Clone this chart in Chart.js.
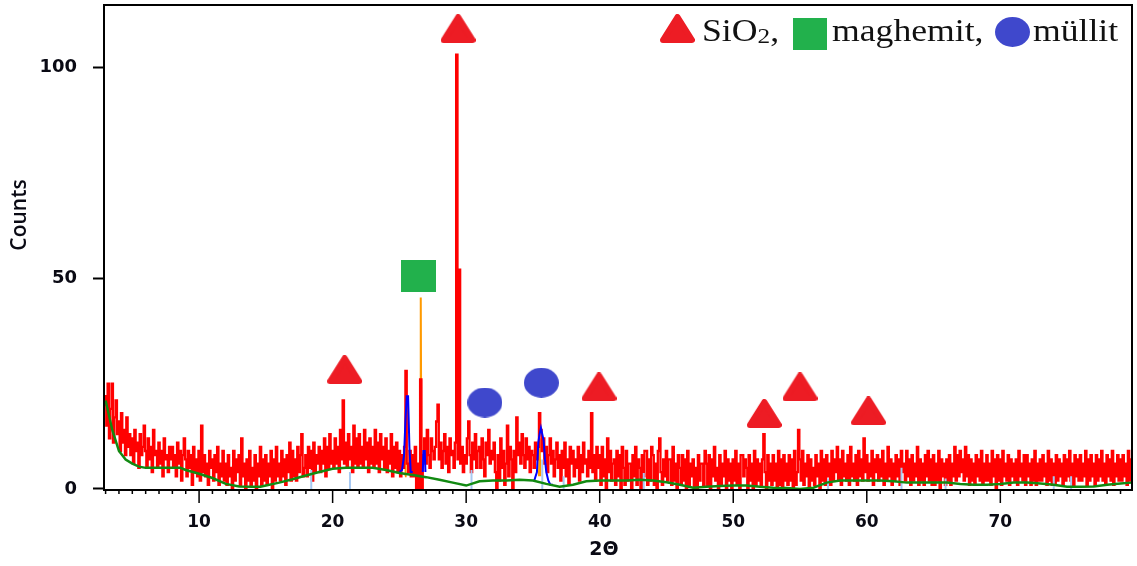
<!DOCTYPE html>
<html>
<head>
<meta charset="utf-8">
<script src="https://cdn.jsdelivr.net/npm/chart.js@4.4.1/dist/chart.umd.min.js"></script>
<style>
  html, body { margin: 0; padding: 0; background: #fff; }
  #wrap { position: relative; width: 1137px; height: 566px; }
  #xrd { display: block; }
  .key { position: absolute; top: 15px; font-family: 'Liberation Serif', 'Times New Roman', serif; font-size: 31px; line-height: 31px; color: #111; transform: scaleX(1.15); transform-origin: left top; white-space: nowrap; }
  .key small { font-size: 22px; position: relative; top: 2px; }
  .sym { position: absolute; }
</style>
</head>
<body>
<div id="wrap">
  <canvas id="xrd" width="1137" height="566"></canvas>
  <div class="key" style="left:702px">SiO<small>2</small>,</div>
  <div class="key" style="left:832px">maghemit,</div>
  <div class="key" style="left:1033px">müllit</div>
</div>
<script>
// measured pattern: counts every 0.1 deg 2-theta, starting at 2.9
const redStart = 2.9;
const redStep = 0.1;
const redCounts = [20,
  22, 15, 25, 12, 19, 25, 11, 17, 21, 13,   // 3
  16, 9, 18, 11, 14, 8, 17, 10, 13, 8,      // 4
  12, 6, 14, 9, 11, 5, 13, 8, 10, 15,       // 5
  9, 5, 12, 7, 10, 4, 14, 8, 9, 5,          // 6
  11, 6, 9, 3, 12, 7, 8, 4, 10, 7,          // 7
  10, 5, 8, 3, 11, 6, 9, 2, 8, 12,          // 8
  7, 3, 9, 5, 8, 1, 10, 4, 7, 3,            // 9
  9, 2, 15, 4, 8, 3, 6, 1, 9, 5,            // 10
  7, 2, 8, 4, 10, 1, 6, 3, 9, 2,            // 11
  6, 1, 8, 3, 5, 0, 9, 2, 7, 4,             // 12
  8, 1, 12, 3, 6, 0, 7, 2, 9, 1,            // 13
  5, 2, 8, 0, 6, 3, 10, 1, 7, 2,            // 14
  8, 1, 6, 3, 9, 0, 7, 2, 10, 3,            // 15
  6, 2, 9, 3, 7, 1, 8, 4, 11, 2,            // 16
  9, 3, 7, 2, 10, 4, 8, 13, 3, 5,           // 17
  8, 3, 10, 5, 9, 2, 11, 4, 8, 6,           // 18
  10, 4, 9, 6, 12, 3, 10, 5, 13, 6,         // 19
  9, 5, 12, 6, 10, 4, 14, 7, 21, 6,         // 20
  11, 5, 13, 7, 10, 4, 15, 6, 12, 5,        // 21
  13, 6, 10, 5, 14, 7, 11, 4, 12, 6,        // 22
  10, 5, 14, 6, 11, 4, 13, 7, 10, 5,        // 23
  12, 4, 9, 6, 13, 3, 10, 5, 11, 4,         // 24
  9, 3, 8, 5, 10, 28, 6, 4, 9, 3,           // 25
  8, 3, 10, 0, 6, 0, 26, 0, 8, 12,          // 26
  6, 14, 8, 5, 12, 9, 7, 10, 16, 20,        // 27
  7, 11, 5, 9, 13, 6, 10, 4, 12, 8,         // 28
  9, 5, 11, 103, 7, 52, 6, 10, 4, 8,        // 29
  6, 12, 16, 8, 4, 11, 7, 13, 5, 9,         // 30
  10, 5, 12, 7, 3, 11, 8, 14, 6, 9,         // 31
  7, 11, 4, 0, 8, 2, 12, 5, 9, 1,           // 32
  6, 15, 3, 10, 7, 0, 9, 4, 17, 8,          // 33
  11, 6, 13, 8, 5, 12, 7, 10, 4, 9,         // 34
  8, 5, 11, 7, 10, 18, 14, 9, 12, 6,        // 35
  10, 4, 8, 12, 6, 9, 3, 7, 11, 5,          // 36
  8, 2, 9, 5, 11, 3, 7, 1, 10, 6,           // 37
  9, 3, 7, 5, 10, 2, 8, 4, 11, 6,           // 38
  7, 3, 9, 5, 18, 4, 8, 2, 10, 5,           // 39
  8, 1, 10, 3, 7, 0, 12, 4, 9, 2,           // 40
  6, 7, 1, 9, 3, 8, 0, 10, 5, 1,            // 41
  9, 2, 6, 6, 0, 8, 3, 10, 1, 7,            // 42
  5, 0, 8, 3, 9, 9, 1, 7, 2, 10,            // 43
  8, 1, 6, 0, 9, 12, 4, 1, 7, 3,            // 44
  9, 2, 7, 7, 1, 10, 2, 6, 0, 8,            // 45
  5, 1, 8, 2, 7, 0, 9, 1, 6, 3,             // 46
  7, 0, 5, 0, 8, 2, 6, 6, 1, 9,             // 47
  6, 1, 8, 0, 7, 3, 10, 2, 5, 0,            // 48
  8, 1, 6, 3, 9, 0, 7, 2, 6, 0,             // 49
  7, 2, 9, 1, 6, 0, 8, 8, 3, 7,             // 50
  5, 0, 8, 2, 6, 0, 9, 1, 7, 2,             // 51
  6, 1, 7, 13, 4, 0, 8, 2, 6, 1,            // 52
  8, 2, 6, 0, 9, 1, 7, 0, 8, 2,             // 53
  6, 1, 8, 2, 7, 0, 9, 1, 4, 14,            // 54
  7, 2, 9, 1, 6, 3, 8, 0, 7, 2,             // 55
  5, 1, 8, 3, 6, 0, 9, 2, 7, 1,             // 56
  8, 3, 6, 1, 9, 2, 7, 4, 10, 2,            // 57
  7, 1, 9, 3, 6, 2, 8, 1, 10, 3,            // 58
  6, 2, 8, 1, 9, 3, 7, 2, 12, 4,            // 59
  8, 2, 6, 3, 9, 1, 7, 4, 8, 2,             // 60
  7, 3, 9, 1, 6, 2, 10, 3, 7, 1,            // 61
  6, 2, 8, 3, 7, 1, 9, 4, 6, 2,             // 62
  9, 3, 7, 1, 8, 2, 6, 3, 10, 1,            // 63
  7, 2, 6, 1, 8, 3, 9, 2, 7, 1,             // 64
  8, 1, 6, 2, 9, 0, 7, 3, 6, 1,             // 65
  7, 2, 8, 1, 6, 3, 10, 2, 8, 3,            // 66
  9, 4, 7, 2, 10, 3, 8, 1, 7, 2,            // 67
  6, 1, 8, 3, 7, 2, 9, 1, 6, 2,             // 68
  8, 2, 6, 1, 9, 3, 7, 0, 8, 2,             // 69
  7, 1, 9, 3, 6, 2, 8, 1, 7, 3,             // 70
  6, 2, 7, 1, 9, 3, 6, 2, 8, 1,             // 71
  8, 3, 6, 1, 7, 2, 9, 1, 6, 2,             // 72
  7, 2, 8, 3, 6, 1, 9, 2, 7, 1,             // 73
  6, 1, 8, 2, 7, 3, 6, 1, 8, 2,             // 74
  7, 3, 9, 2, 6, 1, 8, 3, 7, 2,             // 75
  8, 2, 6, 3, 9, 1, 7, 2, 8, 3,             // 76
  6, 1, 8, 2, 7, 3, 9, 2, 6, 1,             // 77
  8, 3, 7, 2, 9, 1, 6, 3, 8, 2,             // 78
  7, 2, 8, 3, 6, 1, 9, 2, 7, 3              // 79
];

// background (green)
const greenX = [3, 3.5, 4, 4.5, 5, 5.5, 6, 7, 8, 8.6, 9, 10, 11, 12, 13, 14, 14.6, 15, 16, 17, 18, 19, 20, 21, 22, 23, 24, 25, 26, 27, 28, 29, 30,
  31, 32, 33, 34, 35, 36, 37, 38, 39, 40, 41, 42, 43, 44, 45, 46, 47, 48, 49, 50, 51, 52, 53, 54, 55, 56, 57, 58, 59, 60,
  61, 62, 63, 64, 65, 66, 67, 68, 69, 70, 71, 72, 73, 74, 75, 76, 77, 78, 79, 79.8];
const greenY = [21, 14, 9, 7, 6, 5.3, 5, 5, 5, 5, 4.5, 3.6, 2.6, 1.2, 0.6, 0.5, 0.5, 0.8, 1.5, 2.3, 3.2, 4, 4.8, 5, 5, 5, 4.5, 3.8, 3.3, 2.8, 2.2, 1.5, 0.8,
  1.8, 2, 2, 2.2, 2, 1.2, 0.5, 1, 1.8, 2, 2, 2, 2.2, 2, 1.6, 1, 0.3, 0.5, 0.7, 0.8, 0.8, 0.5, 0.3, 0.2, 0, 0.3, 1.5, 2, 2, 2,
  2, 1.8, 1.5, 1.5, 1.5, 1.5, 1.2, 1, 1, 1.2, 1.5, 1.5, 1.3, 1, 0.5, 0.5, 0.6, 1, 1.3, 1.5];

// fitted profile (blue), null = break
const blueX = [25.0, 25.2, 25.35, 25.45, 25.55, 25.65, 25.75, 25.85, 26.0, null,
  26.75, 26.8, 26.9, 26.95, null,
  35.1, 35.3, 35.4, 35.5, 35.6, 35.7, 35.8, 35.9, 36.0, 36.15, 36.3, 36.5];
const blueY = [4, 4.5, 8, 16, 22, 22, 10, 4, 4, null,
  4, 9, 9, 4, null,
  2, 4, 11, 13, 14.5, 13, 11.5, 7, 4, 2, 1, 1];

// orange peak profile
const orangeX = [25.42, 25.45, 25.48, null, 26.55, 26.6, 26.65, null, 35.45, 35.5, 35.55];
const orangeY = [3, 12, 3, null, 3, 45.4, 3, null, 3, 12, 3];

// reference sticks (light blue)
const stickX = [18.4, 21.3, 30.4, 35.7, 37.3, 43.3, 57.1, 62.6, 65.9, 74.0, 75.3];
const stickH = [4.5, 4, 4.5, 7, 3, 3.8, 2.5, 5, 2.5, 3, 3];

// phase markers
const triX = [29.4, 20.9, 39.95, 52.33, 55.0, 60.13];
const triY = [109.2, 28.3, 24.2, 17.9, 24.2, 18.5];
const sqX = [26.43];
const sqY = [50.6];
const cirX = [31.4, 35.63];
const cirY = [20.5, 25.2];

const xTicks = [10, 20, 30, 40, 50, 60, 70];
const yTicks = [0, 50, 100];

function pts(xs, ys) {
    return xs.map((x, i) => ({ x: x, y: ys[i] }));
}

function makeMarker(shape, w, h, color) {
    const c = document.createElement('canvas');
    c.width = w;
    c.height = h;
    const g = c.getContext('2d');
    g.fillStyle = color;
    g.strokeStyle = color;
    if (shape === 'triangle') {
        g.lineJoin = 'round';
        g.lineWidth = 6;
        g.beginPath();
        g.moveTo(w / 2, 3);
        g.lineTo(w - 3, h - 3);
        g.lineTo(3, h - 3);
        g.closePath();
        g.fill();
        g.stroke();
    } else if (shape === 'square') {
        g.fillRect(0, 0, w, h);
    } else {
        g.beginPath();
        g.ellipse(w / 2, h / 2, w / 2, h / 2, 0, 0, Math.PI * 2);
        g.fill();
    }
    return c;
}

const RED = '#ed1c24', GREEN = '#22b14c', BLUE = '#3f48cc';

// legend symbols
const wrap = document.getElementById('wrap');
[['triangle', 35, 29, RED, 660, 14], ['square', 34, 32, GREEN, 793, 18], ['circle', 35, 30, BLUE, 995, 17]].forEach(s => {
    const m = makeMarker(s[0], s[1], s[2], s[3]);
    m.className = 'sym';
    m.style.left = s[4] + 'px';
    m.style.top = s[5] + 'px';
    wrap.appendChild(m);
});

const redPts = redCounts.map((c, i) => ({ x: +(redStart + i * redStep).toFixed(2), y: c }));
const stickPts = [];
stickX.forEach((x, i) => {
    stickPts.push({ x: x, y: 0 }, { x: x, y: stickH[i] }, { x: null, y: null });
});

// frame, x tick marks and axis titles
const framePlugin = {
    id: 'frame',
    afterDraw(chart) {
        const { ctx, chartArea: a, scales } = chart;
        ctx.save();
        ctx.strokeStyle = '#000';
        ctx.lineWidth = 1.5;
        for (let v = 3; v <= 79; v++) {
            const px = scales.x.getPixelForValue(v);
            const len = v % 10 === 0 ? 13 : 4;
            ctx.beginPath();
            ctx.moveTo(px, a.bottom);
            ctx.lineTo(px, a.bottom + len);
            ctx.stroke();
        }
        ctx.lineWidth = 2;
        ctx.strokeRect(a.left, a.top, a.right - a.left, a.bottom - a.top);

        ctx.fillStyle = '#0a0a14';
        ctx.textAlign = 'center';
        ctx.textBaseline = 'middle';
        ctx.font = 'bold 19px "DejaVu Sans"';
        ctx.fillText('2Θ', 604, 550);
        ctx.translate(20, 215);
        ctx.rotate(-Math.PI / 2);
        ctx.font = '600 21px "Open Sans"';
        ctx.fillText('Counts', 0, 0);
        ctx.restore();
    }
};

const ctx = document.getElementById('xrd').getContext('2d');
new Chart(ctx, {
    type: 'line',
    data: {
        datasets: [
            { label: 'SiO2', data: pts(triX, triY), showLine: false, pointStyle: makeMarker('triangle', 35, 29, RED), order: 0 },
            { label: 'maghemit', data: pts(sqX, sqY), showLine: false, pointStyle: makeMarker('square', 35, 32, GREEN), order: 0 },
            { label: 'müllit', data: pts(cirX, cirY), showLine: false, pointStyle: makeMarker('circle', 35, 30, BLUE), order: 0 },
            { label: 'background', data: pts(greenX, greenY), borderColor: '#128a12', borderWidth: 2.5, pointRadius: 0, order: 1 },
            { label: 'profile', data: pts(blueX, blueY), borderColor: '#0000ff', borderWidth: 2, pointRadius: 0, spanGaps: false, order: 2 },
            { label: 'reference', data: stickPts, borderColor: '#a6c8f2', borderWidth: 2, pointRadius: 0, spanGaps: false, order: 3 },
            { label: 'counts', data: redPts, borderColor: '#ff0000', borderWidth: 2.3, stepped: 'middle', pointRadius: 0, order: 4 },
            { label: 'peak', data: pts(orangeX, orangeY), borderColor: '#ff9a00', borderWidth: 2, pointRadius: 0, spanGaps: false, order: 5 }
        ]
    },
    options: {
        responsive: false,
        animation: false,
        events: [],
        layout: { padding: { top: 4, right: 3, left: 0, bottom: 0 } },
        plugins: { legend: { display: false }, tooltip: { enabled: false } },
        scales: {
            x: {
                type: 'linear',
                min: 2.88,
                max: 79.86,
                afterBuildTicks: scale => { scale.ticks = xTicks.map(v => ({ value: v })); },
                afterFit: scale => { scale.height = 76; scale.paddingLeft = 0; scale.paddingRight = 0; },
                grid: { display: false, drawTicks: false },
                border: { display: false },
                ticks: {
                    padding: 22,
                    color: '#0a0a14',
                    font: { family: 'DejaVu Sans', weight: 'bold', size: 17 },
                    maxRotation: 0
                }
            },
            y: {
                min: -0.25,
                max: 114.8,
                afterBuildTicks: scale => { scale.ticks = yTicks.map(v => ({ value: v })); },
                afterFit: scale => { scale.width = 104; scale.paddingTop = 0; scale.paddingBottom = 0; },
                grid: { drawOnChartArea: false, drawTicks: true, tickLength: 11, tickColor: '#000', tickWidth: 2 },
                border: { display: false },
                ticks: {
                    padding: 16,
                    color: '#0a0a14',
                    font: { family: 'DejaVu Sans', weight: 'bold', size: 18 }
                }
            }
        }
    },
    plugins: [framePlugin]
});
</script>
</body>
</html>
